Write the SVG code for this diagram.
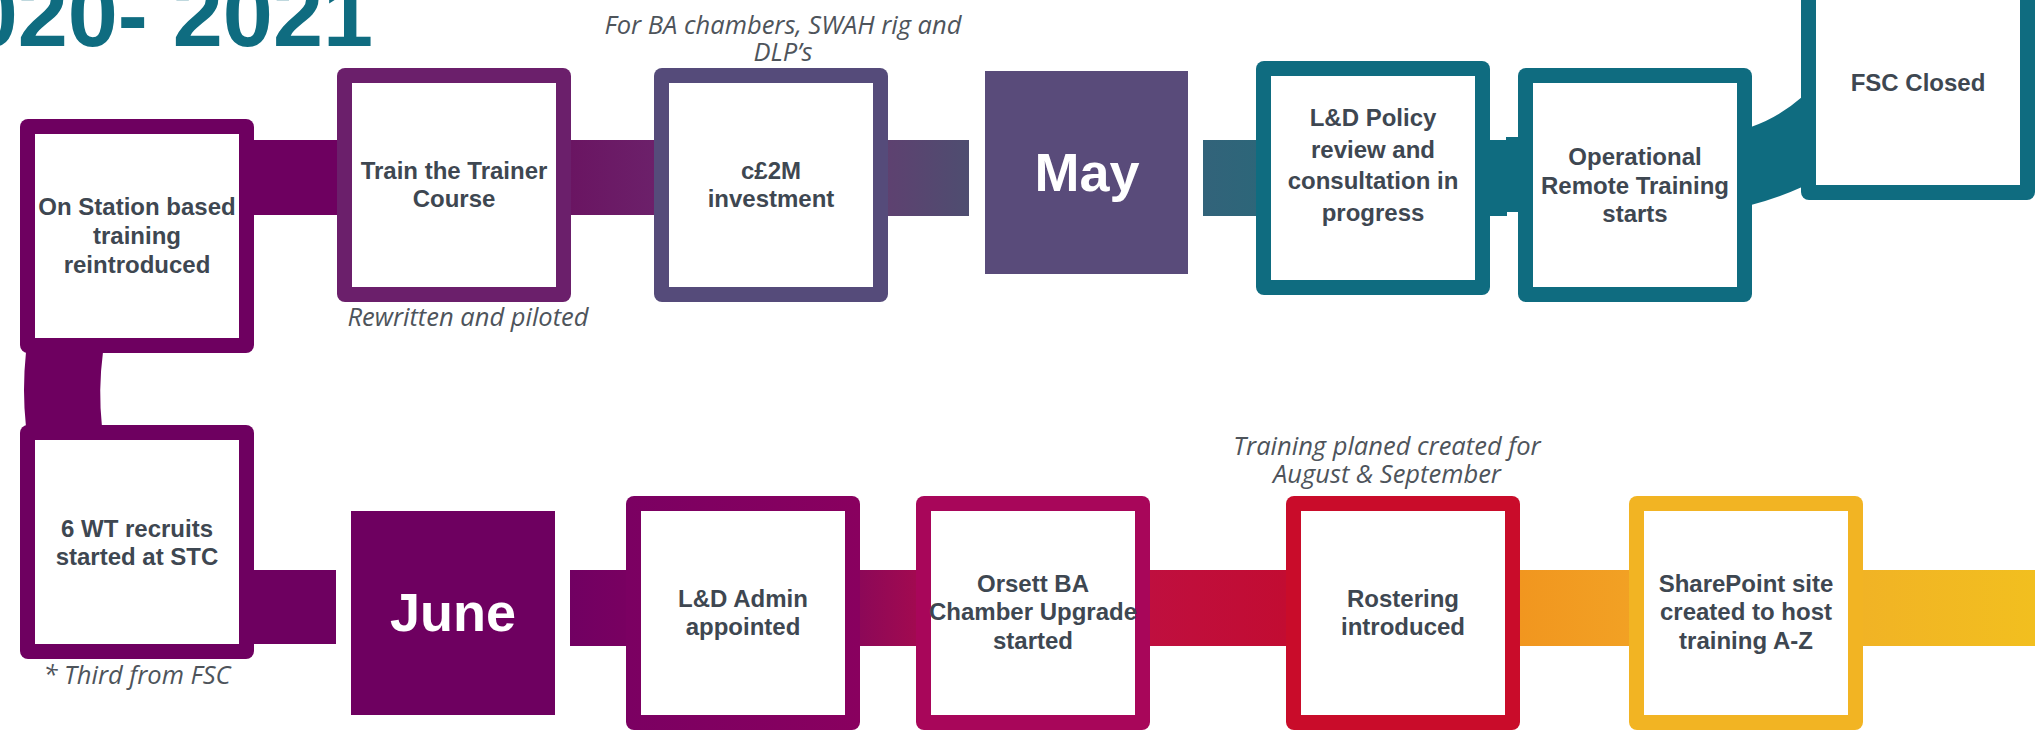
<svg xmlns="http://www.w3.org/2000/svg" width="2035" height="735" viewBox="0 0 2035 735">
<style>
.lbl{font-family:"Liberation Sans",Arial,sans-serif;font-weight:bold;font-size:24px;fill:#3E4751;text-anchor:middle}
.mon{font-family:"Liberation Sans",Arial,sans-serif;font-weight:bold;font-size:54px;fill:#ffffff;text-anchor:middle}
.note{font-family:"Open Sans","Liberation Sans",sans-serif;font-style:italic;font-size:25.5px;fill:#4E545B;text-anchor:middle}
.title{font-family:"Liberation Sans",Arial,sans-serif;font-weight:bold;font-size:90px;fill:#0F6C80;text-anchor:end}
.in{fill:#ffffff}
</style>
<defs>
<linearGradient id="g2" x1="0" x2="1" y1="0" y2="0"><stop offset="0" stop-color="#6A1562"/><stop offset="1" stop-color="#6C206A"/></linearGradient>
<linearGradient id="g3" x1="0" x2="1" y1="0" y2="0"><stop offset="0" stop-color="#5E4170"/><stop offset="1" stop-color="#4E4D70"/></linearGradient>
<linearGradient id="g4" x1="0" x2="1" y1="0" y2="0"><stop offset="0" stop-color="#32637A"/><stop offset="1" stop-color="#2D6679"/></linearGradient>
<linearGradient id="g9" x1="0" x2="1" y1="0" y2="0"><stop offset="0" stop-color="#710062"/><stop offset="1" stop-color="#790061"/></linearGradient>
<linearGradient id="g10" x1="0" x2="1" y1="0" y2="0"><stop offset="0" stop-color="#8C0858"/><stop offset="1" stop-color="#A20A50"/></linearGradient>
<linearGradient id="g11" x1="0" x2="1" y1="0" y2="0"><stop offset="0" stop-color="#BF0F3F"/><stop offset="1" stop-color="#C20C32"/></linearGradient>
<linearGradient id="g12" x1="0" x2="1" y1="0" y2="0"><stop offset="0" stop-color="#F1961F"/><stop offset="1" stop-color="#F2A124"/></linearGradient>
<linearGradient id="g13" x1="0" x2="1" y1="0" y2="0"><stop offset="0" stop-color="#F1B325"/><stop offset="1" stop-color="#F2BF1F"/></linearGradient>
<linearGradient id="gAdmin" x1="0" x2="1" y1="0" y2="0"><stop offset="0" stop-color="#7B0062"/><stop offset="1" stop-color="#89005F"/></linearGradient>
</defs>

<text class="title" x="373" y="46">2020- 2021</text>

<g id="connectors">
<rect x="254" y="140" width="84" height="75" fill="#6E0060"/>
<rect x="570" y="140" width="85" height="75" fill="url(#g2)"/>
<rect x="886" y="140" width="83" height="76" fill="url(#g3)"/>
<rect x="1203" y="140" width="54" height="76" fill="url(#g4)"/>
<rect x="1489" y="140" width="18" height="76" fill="#0F6C80"/>
<rect x="1506" y="137" width="14" height="75" fill="#0F6C80"/>
<path d="M1751 127 Q1778 118 1802 97 L1802 187 Q1778 198 1751 205 Z" fill="#0F6C80"/>
<path d="M26 352 Q22 390 26 427 L102 427 Q98 390 103 352 Z" fill="#6E0060"/>
<rect x="253" y="570" width="83" height="74" fill="#6E0060"/>
<rect x="570" y="570" width="57" height="76" fill="url(#g9)"/>
<rect x="859" y="570" width="58" height="76" fill="url(#g10)"/>
<rect x="1148" y="570" width="139" height="76" fill="url(#g11)"/>
<rect x="1519" y="570" width="111" height="76" fill="url(#g12)"/>
<rect x="1861" y="570" width="174" height="76" fill="url(#g13)"/>
</g>

<g id="n1">
<rect x="20" y="119" width="234" height="234" rx="8" fill="#6E0060"/>
<rect class="in" x="35" y="134" width="204" height="204"/>
<text class="lbl" x="137"><tspan x="137" y="215">On Station based</tspan><tspan x="137" y="244">training</tspan><tspan x="137" y="273">reintroduced</tspan></text>
</g>
<g id="n2">
<rect x="337" y="68" width="234" height="234" rx="8" fill="#6B1F6B"/>
<rect class="in" x="352" y="83" width="204" height="204"/>
<text class="lbl" x="454"><tspan x="454" y="179">Train the Trainer</tspan><tspan x="454" y="207">Course</tspan></text>
<text class="note" x="468" y="326">Rewritten and piloted</text>
</g>
<g id="n3">
<rect x="654" y="68" width="234" height="234" rx="8" fill="#554B7A"/>
<rect class="in" x="669" y="83" width="204" height="204"/>
<text class="lbl" x="771"><tspan x="771" y="179">c£2M</tspan><tspan x="771" y="207">investment</tspan></text>
<text class="note" x="783"><tspan x="783" y="34">For BA chambers, SWAH rig and</tspan><tspan x="783" y="61">DLP’s</tspan></text>
</g>
<g id="n4">
<rect x="985" y="71" width="203" height="203" fill="#594B7A"/>
<text class="mon" x="1087" y="191">May</text>
</g>
<g id="n5">
<rect x="1256" y="61" width="234" height="234" rx="8" fill="#0F6C80"/>
<rect class="in" x="1271" y="76" width="204" height="204"/>
<text class="lbl" x="1373"><tspan x="1373" y="126">L&amp;D Policy</tspan><tspan x="1373" y="157.5">review and</tspan><tspan x="1373" y="189">consultation in</tspan><tspan x="1373" y="220.5">progress</tspan></text>
</g>
<g id="n6">
<rect x="1518" y="68" width="234" height="234" rx="8" fill="#0F6C80"/>
<rect class="in" x="1533" y="83" width="204" height="204"/>
<text class="lbl" x="1635"><tspan x="1635" y="165">Operational</tspan><tspan x="1635" y="193.5">Remote Training</tspan><tspan x="1635" y="222">starts</tspan></text>
</g>
<g id="n7">
<rect x="1801" y="-34" width="234" height="234" rx="8" fill="#0F6C80"/>
<rect class="in" x="1816" y="-19" width="204" height="204"/>
<text class="lbl" x="1918" y="91">FSC Closed</text>
</g>
<g id="n8">
<rect x="20" y="425" width="234" height="234" rx="8" fill="#6E0060"/>
<rect class="in" x="35" y="440" width="204" height="204"/>
<text class="lbl" x="137"><tspan x="137" y="537">6 WT recruits</tspan><tspan x="137" y="565">started at STC</tspan></text>
<text class="note" x="137" y="684">* Third from FSC</text>
</g>
<g id="n9">
<rect x="351" y="511" width="204" height="204" fill="#6E0060"/>
<text class="mon" x="453" y="631">June</text>
</g>
<g id="n10">
<rect x="626" y="496" width="234" height="234" rx="8" fill="url(#gAdmin)"/>
<rect class="in" x="641" y="511" width="204" height="204"/>
<text class="lbl" x="743"><tspan x="743" y="607">L&amp;D Admin</tspan><tspan x="743" y="635">appointed</tspan></text>
</g>
<g id="n11">
<rect x="916" y="496" width="234" height="234" rx="8" fill="#A8065A"/>
<rect class="in" x="931" y="511" width="204" height="204"/>
<text class="lbl" x="1033"><tspan x="1033" y="592">Orsett BA</tspan><tspan x="1033" y="620">Chamber Upgrade</tspan><tspan x="1033" y="649">started</tspan></text>
</g>
<g id="n12">
<rect x="1286" y="496" width="234" height="234" rx="8" fill="#C90C2A"/>
<rect class="in" x="1301" y="511" width="204" height="204"/>
<text class="lbl" x="1403"><tspan x="1403" y="607">Rostering</tspan><tspan x="1403" y="635">introduced</tspan></text>
<text class="note" x="1387"><tspan x="1387" y="455">Training planed created for</tspan><tspan x="1387" y="483">August &amp; September</tspan></text>
</g>
<g id="n13">
<rect x="1629" y="496" width="234" height="234" rx="8" fill="#F2B423"/>
<rect class="in" x="1644" y="511" width="204" height="204"/>
<text class="lbl" x="1746"><tspan x="1746" y="592">SharePoint site</tspan><tspan x="1746" y="620">created to host</tspan><tspan x="1746" y="649">training A-Z</tspan></text>
</g>
</svg>
